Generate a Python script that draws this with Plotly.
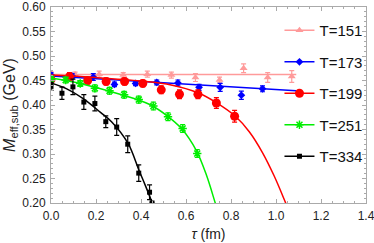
import plotly.graph_objects as go

# ---------------- data ----------------
labels = ["T=151", "T=173", "T=199", "T=251", "T=334"]

tau_151 = [0, 0.107, 0.214, 0.321, 0.428, 0.535, 0.642, 0.749, 0.856, 0.963, 1.07]
m_151 = [0.463, 0.462, 0.463, 0.461, 0.463, 0.461, 0.456, 0.451, 0.475, 0.456, 0.458]
e_151 = [0.005, 0.005, 0.006, 0.005, 0.006, 0.006, 0.008, 0.006, 0.009, 0.010, 0.012]

tau_173 = [0, 0.094, 0.188, 0.282, 0.376, 0.47, 0.564, 0.658, 0.752, 0.846, 0.94]
m_173 = [0.461, 0.459, 0.457, 0.442, 0.444, 0.446, 0.445, 0.436, 0.436, 0.420, 0.433]
e_173 = [0.005, 0.005, 0.007, 0.0045, 0.0045, 0.005, 0.006, 0.006, 0.008, 0.0085, 0.006]

tau_199 = [0, 0.082, 0.163, 0.245, 0.327, 0.408, 0.49, 0.571, 0.653, 0.735, 0.816]
m_199 = [0.452, 0.458, 0.450, 0.448, 0.448, 0.444, 0.431, 0.422, 0.422, 0.404, 0.377]
e_199 = [0.006, 0.008, 0.007, 0.007, 0.007, 0.007, 0.008, 0.009, 0.009, 0.011, 0.012]

tau_251 = [0, 0.065, 0.13, 0.195, 0.26, 0.325, 0.39, 0.455, 0.52, 0.585, 0.65]
m_251 = [0.453, 0.451, 0.444, 0.434, 0.429, 0.421, 0.411, 0.398, 0.376, 0.352, 0.301]
e_251 = [0.006, 0.006, 0.006, 0.007, 0.007, 0.007, 0.007, 0.008, 0.008, 0.008, 0.008]

tau_334 = [0, 0.0487, 0.0974, 0.146, 0.195, 0.2435, 0.292, 0.341, 0.39, 0.438, 0.449]
m_334 = [0.438, 0.424, 0.437, 0.406, 0.403, 0.366, 0.355, 0.320, 0.261, 0.222, 0.200]
e_334 = [0.008, 0.0125, 0.016, 0.015, 0.015, 0.012, 0.017, 0.017, 0.017, 0.015, 0.0]

# fit curves
fit_tau_151 = [0, 1.09]
fit_m_151 = [0.462, 0.462]
fit_tau_173 = [0, 1.09]
fit_m_173 = [0.459, 0.429]
fit_tau_199 = [0, 0.2, 0.4, 0.534, 0.653, 0.738, 0.817, 0.882, 0.941, 0.992, 1.043, 1.07]
fit_m_199 = [0.461, 0.456, 0.449, 0.441, 0.425, 0.404, 0.378, 0.345, 0.302, 0.255, 0.200, 0.170]
fit_tau_251 = [0, 0.13, 0.26, 0.39, 0.439, 0.516, 0.580, 0.646, 0.690, 0.73, 0.75]
fit_m_251 = [0.455, 0.444, 0.428, 0.410, 0.401, 0.378, 0.352, 0.307, 0.258, 0.200, 0.170]
fit_tau_334 = [0, 0.07, 0.143, 0.22, 0.269, 0.342, 0.39, 0.42, 0.452, 0.47]
fit_m_334 = [0.445, 0.433, 0.413, 0.385, 0.366, 0.322, 0.268, 0.235, 0.198, 0.177]

x_ticks = [0.0, 0.2, 0.4, 0.6, 0.8, 1.0, 1.2, 1.4]
y_ticks = [0.20, 0.25, 0.30, 0.35, 0.40, 0.45, 0.50, 0.55, 0.60]

# ---------------- styling ----------------
colors = ["#FF9A9A", "#0000FF", "#FF0000", "#00EE00", "#000000"]
symbols = ["triangle-up", "diamond", "circle", "asterisk-open", "square"]
sizes = [7, 6, 9, 7, 5]

series = [
    (tau_151, m_151, e_151, fit_tau_151, fit_m_151),
    (tau_173, m_173, e_173, fit_tau_173, fit_m_173),
    (tau_199, m_199, e_199, fit_tau_199, fit_m_199),
    (tau_251, m_251, e_251, fit_tau_251, fit_m_251),
    (tau_334, m_334, e_334, fit_tau_334, fit_m_334),
]

fig = go.Figure()
for i, (tx, my, ey, ftx, fmy) in enumerate(series):
    c = colors[i]
    grp = labels[i]
    fig.add_trace(go.Scatter(
        x=ftx, y=fmy, mode="lines",
        line=dict(color=c, width=1.5, shape="spline", smoothing=1.0),
        showlegend=False, legendgroup=grp, hoverinfo="skip"))
    marker = dict(symbol=symbols[i], size=sizes[i], color=c,
                  line=dict(color=c, width=1.5 if symbols[i] == "asterisk-open" else 0))
    fig.add_trace(go.Scatter(
        x=tx, y=my, mode="markers", marker=marker,
        error_y=dict(type="data", array=ey, visible=True, color=c, thickness=1.2, width=2.5),
        showlegend=False, legendgroup=grp))
    fig.add_trace(go.Scatter(
        x=[None], y=[None], mode="lines+markers", name=labels[i],
        marker=marker, line=dict(color=c, width=1.5),
        legendgroup=grp, showlegend=True))

axis_common = dict(
    showline=True, linecolor="#AAAAAA", linewidth=1, mirror="ticks",
    ticks="inside", ticklen=4, tickcolor="#AAAAAA", tickwidth=1,
    showgrid=False, zeroline=False, automargin=False,
    ticklabeloverflow="allow",
    tickfont=dict(family="Liberation Sans, Arial", size=12, color="#222222"),
)

fig.update_xaxes(
    range=[0, 1.4], tickvals=x_ticks, ticktext=[f"{v:.1f}" for v in x_ticks],
    minor=dict(ticks="inside", ticklen=2, tickcolor="#AAAAAA", dtick=0.05, showgrid=False),
    title=dict(text="<i>τ</i> (fm)", font=dict(family="Liberation Sans, Arial", size=14, color="#222222"), standoff=6),
    ticklabelstandoff=2,
    **axis_common)
fig.update_yaxes(
    range=[0.20, 0.60], tickvals=y_ticks, ticktext=[f"{v:.2f}" for v in y_ticks],
    minor=dict(ticks="inside", ticklen=2, tickcolor="#AAAAAA", dtick=0.01, showgrid=False),
    title=dict(text="<i>M</i><sub>eff,sub</sub> (GeV)", font=dict(family="Liberation Sans, Arial", size=16, color="#222222"), standoff=2),
    ticklabelstandoff=2,
    **axis_common)

fig.update_layout(
    width=374, height=243,
    margin=dict(l=51, r=7, t=7, b=40),
    paper_bgcolor="white", plot_bgcolor="white",
    legend=dict(x=0.723, y=0.964, xanchor="left", yanchor="top",
                bgcolor="rgba(0,0,0,0)", traceorder="grouped", tracegroupgap=9,
                font=dict(family="Liberation Sans, Arial", size=15, color="#111111")),
)

fig.write_html("out.html", config={"displayModeBar": False},
               post_script="document.body.style.margin='0';")
